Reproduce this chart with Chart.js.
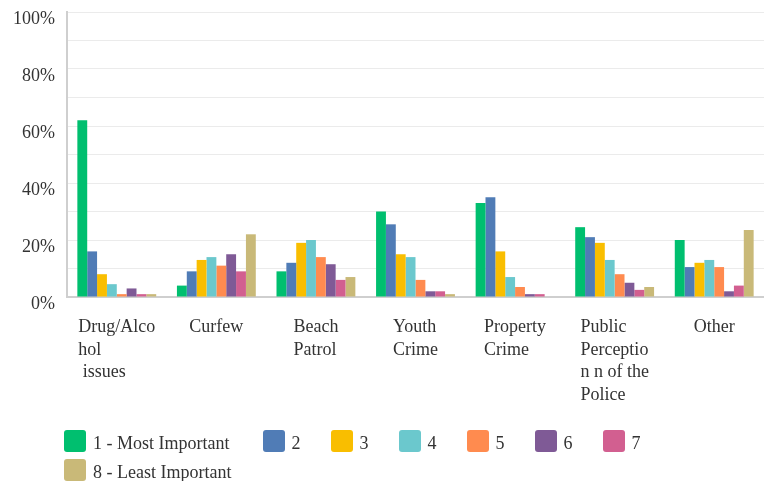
<!DOCTYPE html>
<html>
<head>
<meta charset="utf-8">
<script src="https://cdn.jsdelivr.net/npm/chart.js@4.4.1/dist/chart.umd.min.js"></script>
<style>
  body { margin: 0; background: #fff; }
  #wrap { position: relative; width: 764px; height: 481px; overflow: hidden; }
  #legend {
    position: absolute; left: 64px; top: 430px; width: 690px;
    display: flex; flex-wrap: wrap; column-gap: 30px; row-gap: 7px;
    font: 18px "Liberation Serif", serif; color: #333;
  }
  #legend .item { display: flex; align-items: center; height: 22px; }
  #legend .item:first-child { margin-right: 3px; }
  #legend .box { width: 22px; height: 22px; border-radius: 3px; margin-right: 7px; }
  #legend .txt { line-height: 22px; padding-top: 3px; white-space: nowrap; }
</style>
</head>
<body>
<div id="wrap">
  <canvas id="myChart" width="764" height="481"></canvas>
  <div id="legend"></div>
</div>
<script>
// categories (already split the way they wrap under the axis)
var categories = [
  ["Drug/Alco", "hol", " issues"],
  ["Curfew"],
  ["Beach", "Patrol"],
  ["Youth", "Crime"],
  ["Property", "Crime"],
  ["Public", "Perceptio", "n n of the", "Police"],
  ["Other"]
];

var seriesNames = ["1 - Most Important", "2", "3", "4", "5", "6", "7", "8 - Least Important"];
var seriesColors = ["#00BF6F", "#507CB6", "#F9BE00", "#6BC8CD", "#FF8B4F", "#7F5A96", "#D25F90", "#C9B978"];

// percent of answers per rank
var rank1 = [62, 4, 9, 30, 33, 24.5, 20];
var rank2 = [16, 9, 12, 25.5, 35, 21, 10.5];
var rank3 = [8, 13, 19, 15, 16, 19, 12];
var rank4 = [4.5, 14, 20, 14, 7, 13, 13];
var rank5 = [1, 11, 14, 6, 3.5, 8, 10.5];
var rank6 = [3, 15, 11.5, 2, 1, 5, 2];
var rank7 = [1, 9, 6, 2, 1, 2.5, 4];
var rank8 = [1, 22, 7, 1, 0, 3.5, 23.5];

var yTicks = [0, 20, 40, 60, 80, 100];

var allRanks = [rank1, rank2, rank3, rank4, rank5, rank6, rank7, rank8];

Chart.defaults.font.family = '"Liberation Serif", serif';
Chart.defaults.font.size = 18;
Chart.defaults.color = "#333";

var datasets = [];
for (var i = 0; i < allRanks.length; i++) {
  datasets.push({
    label: seriesNames[i],
    data: allRanks[i],
    backgroundColor: seriesColors[i],
    categoryPercentage: 0.792,
    barPercentage: 1.0
  });
}

// draws the category names under each group, lines left aligned in a centred block
var categoryLabels = {
  id: "categoryLabels",
  afterDraw: function (chart) {
    var ctx = chart.ctx;
    var xs = chart.scales.x;
    var bottom = chart.chartArea.bottom;
    ctx.save();
    ctx.font = '18px "Liberation Serif", serif';
    ctx.fillStyle = "#333";
    ctx.textAlign = "left";
    ctx.textBaseline = "alphabetic";
    categories.forEach(function (lines, i) {
      var w = 0;
      lines.forEach(function (l) { w = Math.max(w, ctx.measureText(l).width); });
      var x0 = xs.getPixelForTick(i) - w / 2;
      lines.forEach(function (l, k) {
        ctx.fillText(l, x0, bottom + 35 + k * 22.7);
      });
    });
    ctx.restore();
  }
};

var myChart = document.getElementById("myChart").getContext("2d");
var chart = new Chart(myChart, {
  type: "bar",
  data: {
    labels: categories.map(function (c) { return c.join(" "); }),
    datasets: datasets
  },
  options: {
    responsive: false,
    animation: false,
    layout: { padding: { top: 12, right: -10, bottom: 184, left: 0 } },
    plugins: {
      legend: { display: false },
      tooltip: { enabled: false }
    },
    scales: {
      x: {
        grid: { display: false, drawTicks: false },
        border: { display: true, color: "#cfcfcf", width: 2 },
        ticks: { display: false }
      },
      y: {
        min: 0,
        max: 100,
        afterFit: function (scale) {
          scale.width = 67;
          // labels sit below their lines, no extra room needed above the top one
          scale.paddingTop = 0;
          scale.paddingBottom = 0;
        },
        grid: { color: "#ebebeb", lineWidth: 1, drawTicks: false },
        border: { display: true, color: "#cfcfcf", width: 2 },
        ticks: {
          stepSize: 10,
          padding: 12,
          labelOffset: 7,
          color: "#333",
          font: { size: 18 },
          callback: function (v) {
            return yTicks.indexOf(v) >= 0 ? v + "%" : "";
          }
        }
      }
    }
  },
  plugins: [categoryLabels]
});

// legend built as html so the spacing can be set freely
var legendBox = document.getElementById("legend");
chart.data.datasets.forEach(function (ds) {
  var item = document.createElement("div");
  item.className = "item";
  var box = document.createElement("span");
  box.className = "box";
  box.style.background = ds.backgroundColor;
  var txt = document.createElement("span");
  txt.className = "txt";
  txt.textContent = ds.label;
  item.appendChild(box);
  item.appendChild(txt);
  legendBox.appendChild(item);
});
</script>
</body>
</html>
